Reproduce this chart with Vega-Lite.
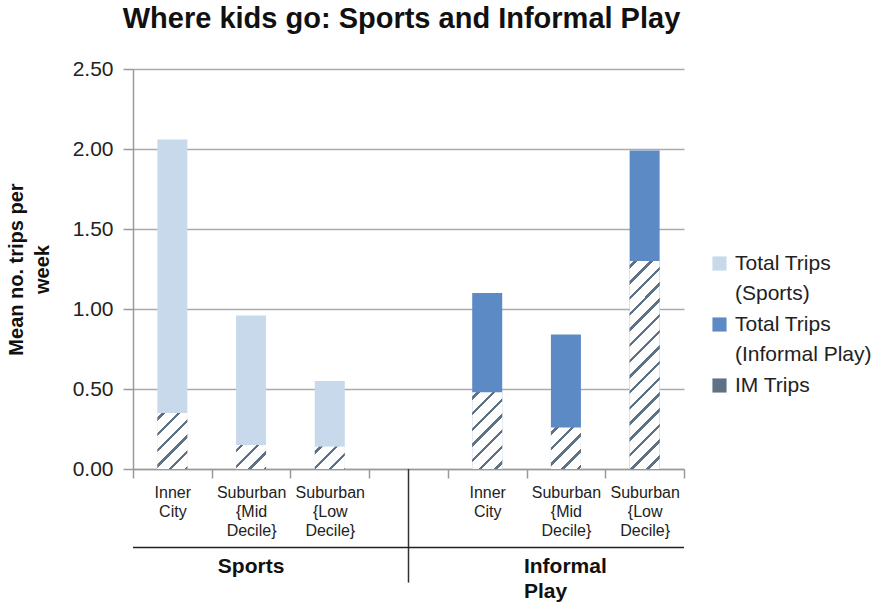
{
  "$schema": "https://vega.github.io/schema/vega-lite/v6.json",
  "width": 551,
  "height": 400,
  "autosize": {"type": "none"},
  "padding": {"left": 133, "top": 69, "right": 193, "bottom": 137},
  "background": "white",
  "config": {"font": "Liberation Sans", "view": {"stroke": null}},
  "title": {"text": "Where kids go: Sports and Informal Play", "fontSize": 29, "fontWeight": "bold", "color": "#111111", "anchor": "middle", "offset": 24, "dx": -7},
  "data": {"values": [
    {"group": "Sports", "area": "Inner City", "slot": "Sports|Inner City", "series": "Total Trips (Sports)", "total": 2.06, "im": 0.35},
    {"group": "Sports", "area": "Suburban {Mid Decile}", "slot": "Sports|Suburban {Mid Decile}", "series": "Total Trips (Sports)", "total": 0.96, "im": 0.15},
    {"group": "Sports", "area": "Suburban {Low Decile}", "slot": "Sports|Suburban {Low Decile}", "series": "Total Trips (Sports)", "total": 0.55, "im": 0.14},
    {"group": "Informal Play", "area": "Inner City", "slot": "Informal Play|Inner City", "series": "Total Trips (Informal Play)", "total": 1.10, "im": 0.48},
    {"group": "Informal Play", "area": "Suburban {Mid Decile}", "slot": "Informal Play|Suburban {Mid Decile}", "series": "Total Trips (Informal Play)", "total": 0.84, "im": 0.26},
    {"group": "Informal Play", "area": "Suburban {Low Decile}", "slot": "Informal Play|Suburban {Low Decile}", "series": "Total Trips (Informal Play)", "total": 1.99, "im": 1.30}
  ]},
  "layer": [
    {
      "mark": {"type": "bar", "width": {"band": 0.381}},
      "encoding": {
        "x": {"field": "slot", "type": "nominal",
          "scale": {"domain": ["Sports|Inner City", "Sports|Suburban {Mid Decile}", "Sports|Suburban {Low Decile}", "gap", "Informal Play|Inner City", "Informal Play|Suburban {Mid Decile}", "Informal Play|Suburban {Low Decile}"], "paddingInner": 0, "paddingOuter": 0},
          "axis": {"title": null, "labelAngle": 0, "tickBand": "extent",
            "labelExpr": "isString(datum.value) && indexof(datum.value, '|') >= 0 ? split(split(datum.value, '|')[1], ' ') : ''",
            "labelFontSize": 16, "labelLineHeight": 19, "labelColor": "#222222", "labelPadding": 6,
            "labelOverlap": false, "labelBound": false, "labelLimit": 200,
            "tickSize": 9, "tickColor": "#9a9a9a", "tickWidth": 1.5, "domainColor": "#9a9a9a", "domainWidth": 1.5, "grid": false}},
        "y": {"field": "total", "type": "quantitative",
          "scale": {"domain": [0, 2.5], "nice": false},
          "axis": {"title": ["Mean no. trips per", "week"], "titleFontSize": 20, "titleFontWeight": "bold", "titleColor": "#111111", "titleLineHeight": 26, "titlePadding": 20,
            "values": [0, 0.5, 1, 1.5, 2, 2.5], "format": ".2f", "labelFontSize": 21, "labelColor": "#222222", "labelPadding": 10,
            "tickSize": 10, "tickColor": "#9a9a9a", "tickWidth": 1.5, "domainColor": "#9a9a9a", "domainWidth": 1.5, "gridColor": "#aaaaaa", "gridWidth": 1.5}},
        "color": {"field": "series", "type": "nominal",
          "scale": {"domain": ["Total Trips (Sports)", "Total Trips (Informal Play)", "IM Trips"], "range": ["#c7d9eb", "#5b8ac5", "#5f7284"]},
          "legend": {"title": null, "orient": "none", "legendX": 576, "legendY": 184, "padding": 0,
            "symbolType": "square", "symbolSize": 200, "symbolStrokeWidth": 0,
            "labelFontSize": 21, "labelLineHeight": 30, "labelColor": "#222222", "labelOffset": 5, "labelLimit": 300, "rowPadding": 9,
            "labelExpr": "isString(datum.label) && indexof(datum.label, '(') > 0 ? [substring(datum.label, 0, indexof(datum.label, '(') - 1), substring(datum.label, indexof(datum.label, '('))] : datum.label",
            "encode": {
              "labels": {"update": {"lineHeight": {"value": 30}}}
            }}}
      }
    },
    {
      "transform": [{"filter": "datum.slot === 'Sports|Inner City'"}],
      "mark": {"type": "bar", "width": {"band": 0.381}, "fill": {"gradient": "linear", "x1": 0, "y1": 0, "x2": 0.6392, "y2": 1.1933, "stops": [
            {"offset": 0, "color": "white"}, {"offset": 0.0494, "color": "white"}, {"offset": 0.0494, "color": "#5f7284"}, {"offset": 0.0901, "color": "#5f7284"}, {"offset": 0.0901, "color": "white"},
            {"offset": 0.2320, "color": "white"}, {"offset": 0.2320, "color": "#5f7284"}, {"offset": 0.2727, "color": "#5f7284"}, {"offset": 0.2727, "color": "white"},
            {"offset": 0.4145, "color": "white"}, {"offset": 0.4145, "color": "#5f7284"}, {"offset": 0.4552, "color": "#5f7284"}, {"offset": 0.4552, "color": "white"},
            {"offset": 0.5971, "color": "white"}, {"offset": 0.5971, "color": "#5f7284"}, {"offset": 0.6378, "color": "#5f7284"}, {"offset": 0.6378, "color": "white"},
            {"offset": 0.7797, "color": "white"}, {"offset": 0.7797, "color": "#5f7284"}, {"offset": 0.8203, "color": "#5f7284"}, {"offset": 0.8203, "color": "white"},
            {"offset": 0.9622, "color": "white"}, {"offset": 0.9622, "color": "#5f7284"}, {"offset": 1, "color": "#5f7284"}]}},
      "encoding": {"x": {"field": "slot", "type": "nominal"}, "y": {"field": "im", "type": "quantitative"}}
    },
    {
      "transform": [{"filter": "datum.slot === 'Sports|Suburban {Mid Decile}'"}],
      "mark": {"type": "bar", "width": {"band": 0.381}, "fill": {"gradient": "linear", "x1": 0, "y1": 0, "x2": 1.0976, "y2": 0.8780, "stops": [
            {"offset": 0, "color": "white"}, {"offset": 0.0787, "color": "white"}, {"offset": 0.0787, "color": "#5f7284"}, {"offset": 0.1435, "color": "#5f7284"}, {"offset": 0.1435, "color": "white"},
            {"offset": 0.3694, "color": "white"}, {"offset": 0.3694, "color": "#5f7284"}, {"offset": 0.4343, "color": "#5f7284"}, {"offset": 0.4343, "color": "white"},
            {"offset": 0.6602, "color": "white"}, {"offset": 0.6602, "color": "#5f7284"}, {"offset": 0.7250, "color": "#5f7284"}, {"offset": 0.7250, "color": "white"},
            {"offset": 0.9509, "color": "white"}, {"offset": 0.9509, "color": "#5f7284"}, {"offset": 1, "color": "#5f7284"}]}},
      "encoding": {"x": {"field": "slot", "type": "nominal"}, "y": {"field": "im", "type": "quantitative"}}
    },
    {
      "transform": [{"filter": "datum.slot === 'Sports|Suburban {Low Decile}'"}],
      "mark": {"type": "bar", "width": {"band": 0.381}, "fill": {"gradient": "linear", "x1": 0, "y1": 0, "x2": 1.1214, "y2": 0.8373, "stops": [
            {"offset": 0, "color": "white"}, {"offset": 0.0811, "color": "white"}, {"offset": 0.0811, "color": "#5f7284"}, {"offset": 0.1479, "color": "#5f7284"}, {"offset": 0.1479, "color": "white"},
            {"offset": 0.3807, "color": "white"}, {"offset": 0.3807, "color": "#5f7284"}, {"offset": 0.4475, "color": "#5f7284"}, {"offset": 0.4475, "color": "white"},
            {"offset": 0.6803, "color": "white"}, {"offset": 0.6803, "color": "#5f7284"}, {"offset": 0.7471, "color": "#5f7284"}, {"offset": 0.7471, "color": "white"},
            {"offset": 0.9800, "color": "white"}, {"offset": 0.9800, "color": "#5f7284"}, {"offset": 1, "color": "#5f7284"}]}},
      "encoding": {"x": {"field": "slot", "type": "nominal"}, "y": {"field": "im", "type": "quantitative"}}
    },
    {
      "transform": [{"filter": "datum.slot === 'Informal Play|Inner City'"}],
      "mark": {"type": "bar", "width": {"band": 0.381}, "fill": {"gradient": "linear", "x1": 0, "y1": 0, "x2": 0.4713, "y2": 1.2065, "stops": [
            {"offset": 0, "color": "white"}, {"offset": 0.0398, "color": "white"}, {"offset": 0.0398, "color": "#5f7284"}, {"offset": 0.0726, "color": "#5f7284"}, {"offset": 0.0726, "color": "white"},
            {"offset": 0.1868, "color": "white"}, {"offset": 0.1868, "color": "#5f7284"}, {"offset": 0.2196, "color": "#5f7284"}, {"offset": 0.2196, "color": "white"},
            {"offset": 0.3338, "color": "white"}, {"offset": 0.3338, "color": "#5f7284"}, {"offset": 0.3666, "color": "#5f7284"}, {"offset": 0.3666, "color": "white"},
            {"offset": 0.4808, "color": "white"}, {"offset": 0.4808, "color": "#5f7284"}, {"offset": 0.5136, "color": "#5f7284"}, {"offset": 0.5136, "color": "white"},
            {"offset": 0.6278, "color": "white"}, {"offset": 0.6278, "color": "#5f7284"}, {"offset": 0.6606, "color": "#5f7284"}, {"offset": 0.6606, "color": "white"},
            {"offset": 0.7748, "color": "white"}, {"offset": 0.7748, "color": "#5f7284"}, {"offset": 0.8076, "color": "#5f7284"}, {"offset": 0.8076, "color": "white"},
            {"offset": 0.9218, "color": "white"}, {"offset": 0.9218, "color": "#5f7284"}, {"offset": 0.9546, "color": "#5f7284"}, {"offset": 0.9546, "color": "white"}, {"offset": 1, "color": "white"}]}},
      "encoding": {"x": {"field": "slot", "type": "nominal"}, "y": {"field": "im", "type": "quantitative"}}
    },
    {
      "transform": [{"filter": "datum.slot === 'Informal Play|Suburban {Mid Decile}'"}],
      "mark": {"type": "bar", "width": {"band": 0.381}, "fill": {"gradient": "linear", "x1": 0, "y1": 0, "x2": 0.8166, "y2": 1.1323, "stops": [
            {"offset": 0, "color": "white"}, {"offset": 0.0594, "color": "white"}, {"offset": 0.0594, "color": "#5f7284"}, {"offset": 0.1082, "color": "#5f7284"}, {"offset": 0.1082, "color": "white"},
            {"offset": 0.2786, "color": "white"}, {"offset": 0.2786, "color": "#5f7284"}, {"offset": 0.3275, "color": "#5f7284"}, {"offset": 0.3275, "color": "white"},
            {"offset": 0.4979, "color": "white"}, {"offset": 0.4979, "color": "#5f7284"}, {"offset": 0.5468, "color": "#5f7284"}, {"offset": 0.5468, "color": "white"},
            {"offset": 0.7172, "color": "white"}, {"offset": 0.7172, "color": "#5f7284"}, {"offset": 0.7661, "color": "#5f7284"}, {"offset": 0.7661, "color": "white"},
            {"offset": 0.9365, "color": "white"}, {"offset": 0.9365, "color": "#5f7284"}, {"offset": 0.9853, "color": "#5f7284"}, {"offset": 0.9853, "color": "white"}, {"offset": 1, "color": "white"}]}},
      "encoding": {"x": {"field": "slot", "type": "nominal"}, "y": {"field": "im", "type": "quantitative"}}
    },
    {
      "transform": [{"filter": "datum.slot === 'Informal Play|Suburban {Low Decile}'"}],
      "mark": {"type": "bar", "width": {"band": 0.381}, "fill": {"gradient": "linear", "x1": 0, "y1": 0, "x2": 0.1617, "y2": 1.1209, "stops": [
            {"offset": 0, "color": "white"}, {"offset": 0.0179, "color": "white"}, {"offset": 0.0179, "color": "#5f7284"}, {"offset": 0.0326, "color": "#5f7284"}, {"offset": 0.0326, "color": "white"},
            {"offset": 0.0838, "color": "white"}, {"offset": 0.0838, "color": "#5f7284"}, {"offset": 0.0985, "color": "#5f7284"}, {"offset": 0.0985, "color": "white"},
            {"offset": 0.1498, "color": "white"}, {"offset": 0.1498, "color": "#5f7284"}, {"offset": 0.1645, "color": "#5f7284"}, {"offset": 0.1645, "color": "white"},
            {"offset": 0.2158, "color": "white"}, {"offset": 0.2158, "color": "#5f7284"}, {"offset": 0.2305, "color": "#5f7284"}, {"offset": 0.2305, "color": "white"},
            {"offset": 0.2817, "color": "white"}, {"offset": 0.2817, "color": "#5f7284"}, {"offset": 0.2964, "color": "#5f7284"}, {"offset": 0.2964, "color": "white"},
            {"offset": 0.3477, "color": "white"}, {"offset": 0.3477, "color": "#5f7284"}, {"offset": 0.3624, "color": "#5f7284"}, {"offset": 0.3624, "color": "white"},
            {"offset": 0.4137, "color": "white"}, {"offset": 0.4137, "color": "#5f7284"}, {"offset": 0.4284, "color": "#5f7284"}, {"offset": 0.4284, "color": "white"},
            {"offset": 0.4796, "color": "white"}, {"offset": 0.4796, "color": "#5f7284"}, {"offset": 0.4943, "color": "#5f7284"}, {"offset": 0.4943, "color": "white"},
            {"offset": 0.5456, "color": "white"}, {"offset": 0.5456, "color": "#5f7284"}, {"offset": 0.5603, "color": "#5f7284"}, {"offset": 0.5603, "color": "white"},
            {"offset": 0.6116, "color": "white"}, {"offset": 0.6116, "color": "#5f7284"}, {"offset": 0.6263, "color": "#5f7284"}, {"offset": 0.6263, "color": "white"},
            {"offset": 0.6775, "color": "white"}, {"offset": 0.6775, "color": "#5f7284"}, {"offset": 0.6922, "color": "#5f7284"}, {"offset": 0.6922, "color": "white"},
            {"offset": 0.7435, "color": "white"}, {"offset": 0.7435, "color": "#5f7284"}, {"offset": 0.7582, "color": "#5f7284"}, {"offset": 0.7582, "color": "white"},
            {"offset": 0.8095, "color": "white"}, {"offset": 0.8095, "color": "#5f7284"}, {"offset": 0.8242, "color": "#5f7284"}, {"offset": 0.8242, "color": "white"},
            {"offset": 0.8754, "color": "white"}, {"offset": 0.8754, "color": "#5f7284"}, {"offset": 0.8901, "color": "#5f7284"}, {"offset": 0.8901, "color": "white"},
            {"offset": 0.9414, "color": "white"}, {"offset": 0.9414, "color": "#5f7284"}, {"offset": 0.9561, "color": "#5f7284"}, {"offset": 0.9561, "color": "white"}, {"offset": 1, "color": "white"}]}},
      "encoding": {"x": {"field": "slot", "type": "nominal"}, "y": {"field": "im", "type": "quantitative"}}
    },
    {
      "data": {"values": [{"divider": "group boundary"}]},
      "mark": {"type": "rule", "color": "#333333", "strokeWidth": 1.5},
      "encoding": {"x": {"datum": "gap", "type": "nominal"}, "y": {"datum": 0, "type": "quantitative"}, "y2": {"datum": -0.71}}
    },
    {
      "data": {"values": [{"divider": "group underline"}]},
      "mark": {"type": "rule", "color": "#222222", "strokeWidth": 1.5},
      "encoding": {"x": {"value": 0}, "x2": {"value": "width"}, "y": {"datum": -0.49, "type": "quantitative"}}
    },
    {
      "data": {"values": [{"group": "Sports", "slot": "Sports|Suburban {Mid Decile}"}]},
      "mark": {"type": "text", "align": "center", "baseline": "alphabetic", "fontSize": 21, "fontWeight": "bold", "color": "#111111"},
      "encoding": {"x": {"field": "slot", "type": "nominal"}, "y": {"datum": -0.65, "type": "quantitative"}, "text": {"field": "group"}}
    },
    {
      "data": {"values": [{"group": "Informal Play", "slot": "Informal Play|Suburban {Mid Decile}"}]},
      "mark": {"type": "text", "align": "left", "baseline": "alphabetic", "dx": -42, "fontSize": 21, "fontWeight": "bold", "color": "#111111", "lineBreak": " ", "lineHeight": 25},
      "encoding": {"x": {"field": "slot", "type": "nominal"}, "y": {"datum": -0.65, "type": "quantitative"}, "text": {"field": "group"}}
    }
  ]
}
